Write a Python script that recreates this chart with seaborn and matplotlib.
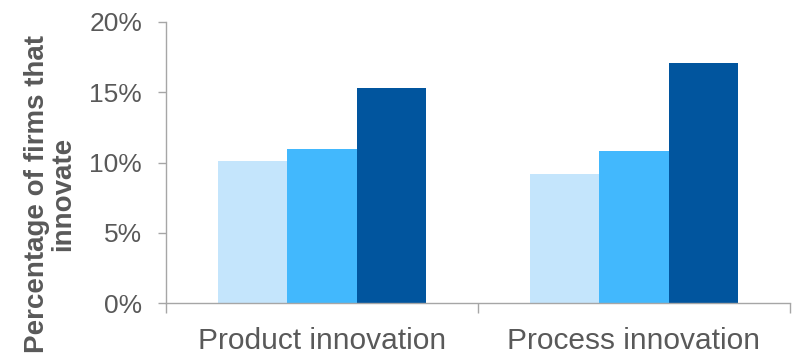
import matplotlib
matplotlib.use("Agg")
import matplotlib.pyplot as plt
import seaborn as sns
import pandas as pd
from matplotlib.ticker import FuncFormatter, FixedLocator

categories = ["Product innovation", "Process innovation"]
series = ["Series 1", "Series 2", "Series 3"]
values_s1 = [10.1, 9.2]
values_s2 = [11.0, 10.8]
values_s3 = [15.3, 17.1]
y_ticks = [0, 5, 10, 15, 20]
colors = ["#C4E5FC", "#42B8FD", "#01559E"]

rows = []
for s, vals in zip(series, [values_s1, values_s2, values_s3]):
    for c, v in zip(categories, vals):
        rows.append({"category": c, "series": s, "value": v})
df = pd.DataFrame(rows)

sns.set_style("white")
plt.rcParams["font.family"] = ["Liberation Sans", "DejaVu Sans"]

fig = plt.figure(figsize=(7.92, 3.61), dpi=100)
ax = fig.add_axes([0.2092, 0.1598, 0.7883, 0.7793])

sns.barplot(data=df, x="category", y="value", hue="series", order=categories,
            hue_order=series, palette=colors, width=0.668, gap=0, saturation=1,
            linewidth=0, errorbar=None, legend=False, ax=ax)

grey_txt = "#595959"
spine_col = "#A6A6A6"
ax.set_ylim(0, 20)
ax.set_xlim(-0.5, 1.5)
ax.set_yticks(y_ticks)
ax.yaxis.set_major_formatter(FuncFormatter(lambda v, p: f"{int(v)}%"))
for s in ["top", "right"]:
    ax.spines[s].set_visible(False)
for s in ["left", "bottom"]:
    ax.spines[s].set_color(spine_col)
    ax.spines[s].set_linewidth(1.0)

ax.tick_params(axis="y", which="major", length=6, width=1, color=spine_col,
               direction="out", left=True, labelsize=19, labelcolor=grey_txt, pad=11)
ax.tick_params(axis="x", which="major", length=0, labelsize=21.5,
               labelcolor=grey_txt, pad=17)
ax.xaxis.set_minor_locator(FixedLocator([-0.5, 0.5, 1.5]))
ax.tick_params(axis="x", which="minor", length=7.5, width=1, color=spine_col,
               direction="out", bottom=True)
ax.set_xlabel("")
ax.set_ylabel("")

fig.text(50 / 792, 1 - 194 / 361, "Percentage of firms that\ninnovate",
         rotation=90, ha="center", va="center", multialignment="center",
         fontsize=20, fontweight="bold", color=grey_txt, linespacing=1.0)

fig.savefig("out.png", dpi=100)
